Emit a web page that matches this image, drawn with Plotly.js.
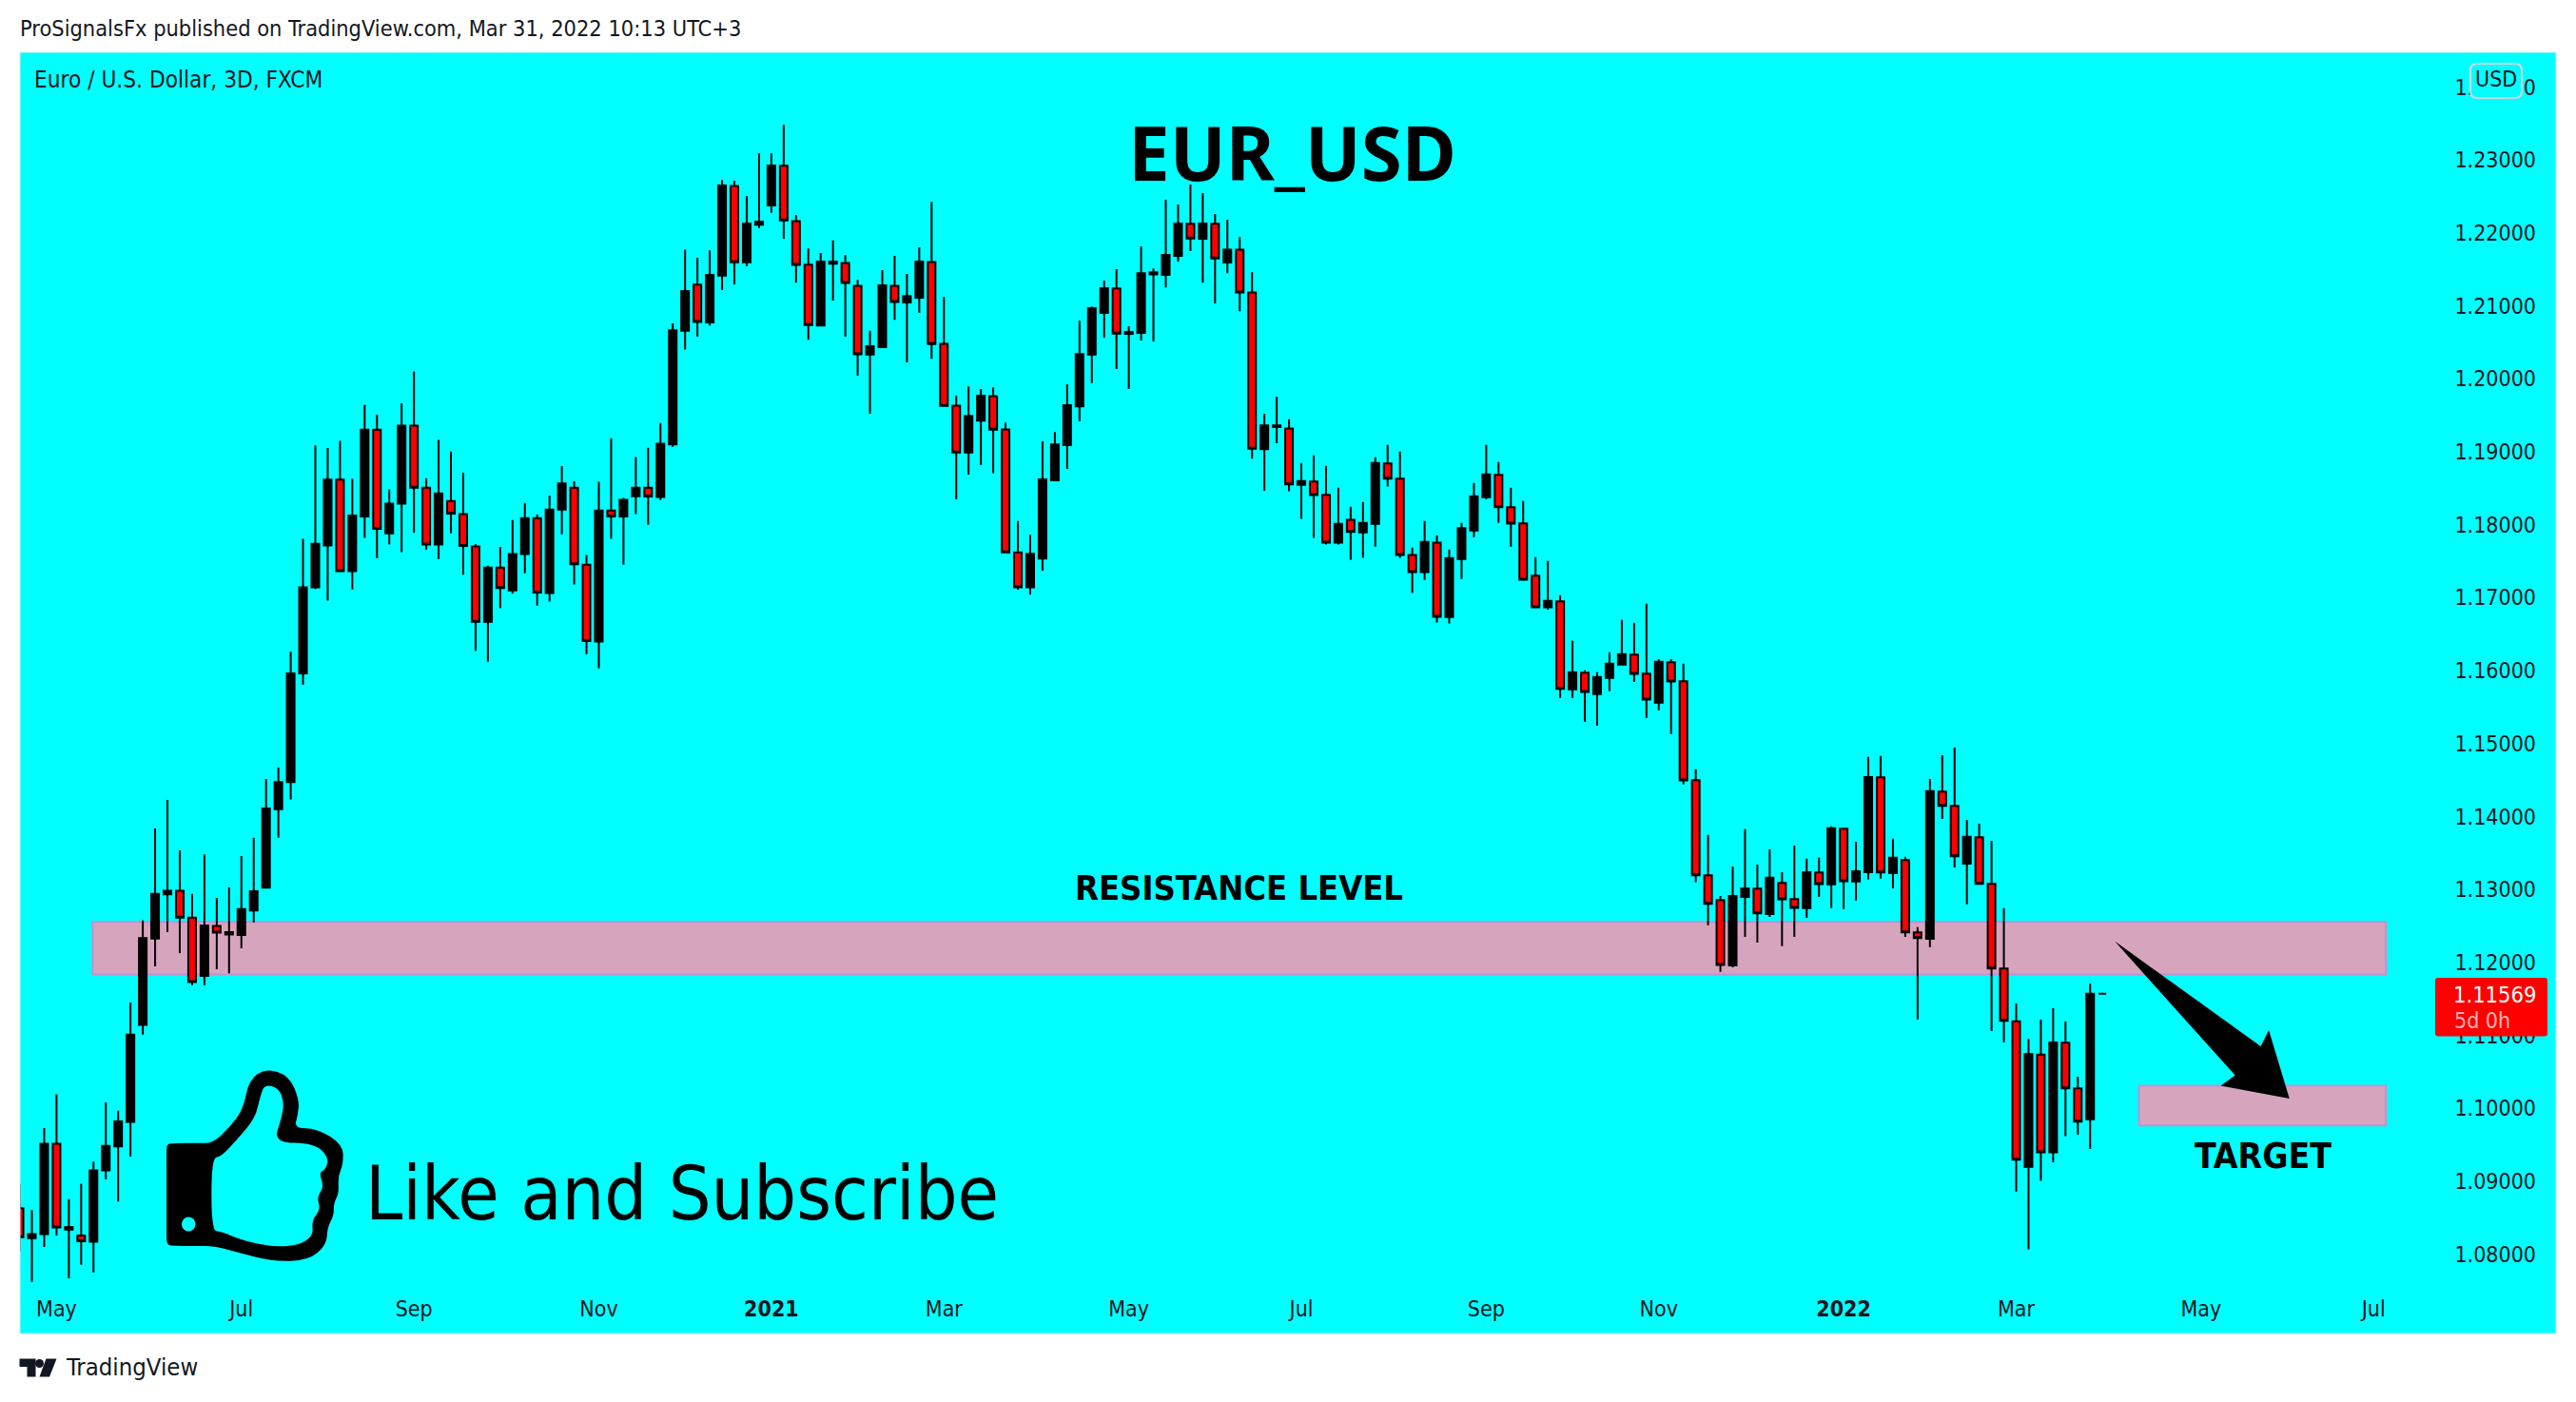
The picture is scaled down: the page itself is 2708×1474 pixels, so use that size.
<!DOCTYPE html>
<html><head><meta charset="utf-8">
<script src="https://cdn.plot.ly/plotly-3.0.1.min.js"></script>
<style>html,body{margin:0;padding:0;background:#fff}#c{width:2708px;height:1474px}</style>
</head><body><div id="c"></div>
<script>
const open=[1.08629,1.0822,1.08275,1.09514,1.08336,1.08256,1.08171,1.09148,1.09477,1.09813,
1.11144,1.12328,1.12933,1.12982,1.12615,1.11816,1.12499,1.12383,1.12377,1.12713,
1.13024,1.14099,1.14471,1.15962,1.17143,1.17716,1.1862,1.17365,1.18115,1.19303,
1.17882,1.18288,1.19358,1.18509,1.17728,1.18325,1.18146,1.17703,1.1667,1.17414,
1.171,1.17599,1.18091,1.17063,1.18208,1.18509,1.17451,1.16399,1.18196,1.18115,
1.18392,1.18509,1.1838,1.19102,1.20658,1.21291,1.20774,1.21417,1.22646,1.21598,
1.22115,1.22376,1.22921,1.22162,1.21566,1.20732,1.2158,1.21589,1.21277,1.20332,
1.20434,1.21277,1.21049,1.21114,1.21603,1.20481,1.19633,1.18991,1.19428,1.19763,
1.19307,1.17621,1.17142,1.17537,1.18609,1.19093,1.19624,1.20332,1.20905,1.2124,
1.20616,1.2063,1.21431,1.21426,1.21687,1.22125,1.2192,1.22125,1.21594,1.21771,
1.21184,1.19037,1.1934,1.1932,1.18546,1.18594,1.18411,1.17755,1.18068,1.17894,
1.18011,1.18841,1.18633,1.17585,1.1735,1.17755,1.16733,1.17529,1.1792,1.18376,
1.18685,1.18242,1.1802,1.17303,1.16868,1.16951,1.15742,1.15972,1.15677,1.15899,
1.16081,1.1622,1.15959,1.1556,1.16116,1.15855,1.14499,1.13195,1.12856,1.1196,
1.12899,1.13012,1.12664,1.1309,1.12869,1.12743,1.13234,1.13069,1.13834,1.13108,
1.13238,1.14538,1.13225,1.13403,1.12412,1.12325,1.14342,1.14147,1.13355,1.13716,
1.13077,1.11917,1.11193,1.09198,1.10737,1.09396,1.10898,1.10272,1.09848,1.11569];
const high=[1.08965,1.08604,1.09728,1.10192,1.08757,1.08965,1.0927,1.10082,1.09966,1.11449,
1.12579,1.13836,1.14227,1.13537,1.12939,1.13482,1.12884,1.13031,1.13458,1.13708,
1.14514,1.14673,1.16257,1.17808,1.19088,1.19051,1.19149,1.18632,1.19641,1.19512,
1.18485,1.19666,1.20103,1.18639,1.19162,1.19002,1.18712,1.17734,1.17439,1.17697,
1.18066,1.183,1.1814,1.18399,1.18805,1.18595,1.17586,1.18589,1.19186,1.18368,
1.18928,1.19057,1.19395,1.2076,1.21771,1.21659,1.21761,1.22725,1.22716,1.22507,
1.23093,1.23093,1.23484,1.22246,1.21789,1.21724,1.21897,1.21701,1.21356,1.20658,
1.21491,1.21687,1.2144,1.21803,1.22427,1.21123,1.19768,1.19898,1.19861,1.19885,
1.194,1.1805,1.17864,1.19144,1.1927,1.19922,1.20797,1.20993,1.21347,1.21505,
1.20723,1.21817,1.21515,1.22455,1.2239,1.22665,1.22548,1.2226,1.22181,1.21943,
1.21463,1.19521,1.19754,1.19446,1.18846,1.1895,1.18807,1.18507,1.18246,1.18311,
1.18924,1.19094,1.19002,1.17685,1.1805,1.17855,1.17659,1.18024,1.18572,1.19094,
1.18859,1.18507,1.18324,1.17555,1.17503,1.17033,1.16407,1.16003,1.15977,1.16251,
1.16694,1.16655,1.16916,1.16159,1.16159,1.16094,1.14647,1.13747,1.12912,1.13316,
1.13825,1.13342,1.13551,1.13238,1.13603,1.13421,1.13434,1.13864,1.13838,1.13655,
1.14816,1.14829,1.13695,1.13447,1.12482,1.14516,1.14842,1.14946,1.13955,1.13903,
1.13668,1.12743,1.11438,1.10954,1.11216,1.11373,1.11189,1.10433,1.11709,1.11569];
const low=[1.08037,1.07621,1.08098,1.08256,1.0767,1.07853,1.0775,1.09026,1.0872,1.09337,
1.1101,1.11944,1.12414,1.12127,1.11687,1.11687,1.11907,1.11852,1.12194,1.12548,
1.13024,1.13708,1.14233,1.15808,1.17119,1.16959,1.17365,1.17113,1.1782,1.17543,
1.17728,1.17623,1.17888,1.1766,1.17531,1.17882,1.17316,1.1627,1.16122,1.16854,
1.17057,1.17334,1.16891,1.16946,1.17869,1.1718,1.16227,1.1603,1.17808,1.17451,
1.18146,1.17998,1.18337,1.1907,1.20402,1.20579,1.20732,1.21216,1.21296,1.21547,
1.22069,1.22278,1.2192,1.21319,1.20537,1.20732,1.21072,1.20579,1.20043,1.19521,
1.20434,1.20811,1.20225,1.20905,1.20276,1.19615,1.18348,1.18688,1.18818,1.18706,
1.17621,1.17109,1.17044,1.1737,1.18609,1.18767,1.19419,1.19941,1.20565,1.20136,
1.19861,1.20527,1.20513,1.21254,1.21608,1.21752,1.21319,1.21035,1.21449,1.20928,
1.18907,1.18464,1.19116,1.18459,1.18081,1.1782,1.17729,1.17729,1.1752,1.17546,
1.17698,1.18524,1.17546,1.17064,1.17242,1.16659,1.16646,1.17255,1.17829,1.1835,
1.18024,1.17698,1.17246,1.16855,1.16837,1.15625,1.15625,1.15299,1.15246,1.15716,
1.16081,1.15846,1.15351,1.15455,1.15129,1.14438,1.13099,1.12508,1.11869,1.11934,
1.12351,1.12273,1.12625,1.12221,1.12351,1.12612,1.12899,1.12743,1.1273,1.12847,
1.13134,1.13147,1.13016,1.12351,1.11217,1.12208,1.13968,1.13303,1.12795,1.13077,
1.1106,1.10904,1.08857,1.08065,1.09005,1.09258,1.09617,1.09636,1.09442,1.11569];
const close=[1.08232,1.08275,1.09514,1.08366,1.08372,1.08177,1.09148,1.09484,1.09819,1.1101,
1.12335,1.12939,1.12982,1.12615,1.1173,1.12505,1.12408,1.12414,1.12731,1.12976,
1.14111,1.14471,1.15962,1.17143,1.1774,1.1862,1.17365,1.18128,1.19303,1.17943,
1.18288,1.19358,1.18509,1.17728,1.18429,1.18152,1.17709,1.1667,1.17414,1.17131,
1.17599,1.18091,1.1707,1.18208,1.18565,1.17457,1.16405,1.18196,1.18115,1.18343,
1.18509,1.18386,1.19112,1.20667,1.21203,1.20779,1.21426,1.22651,1.21598,1.22129,
1.22157,1.22926,1.22171,1.21561,1.20737,1.21608,1.21608,1.21314,1.20336,1.20448,
1.21282,1.21054,1.21137,1.21608,1.20476,1.19629,1.18991,1.19493,1.19768,1.19302,
1.17621,1.17142,1.17603,1.18623,1.19102,1.19638,1.20341,1.2097,1.21244,1.2062,
1.20644,1.21449,1.21463,1.21701,1.22129,1.21924,1.22129,1.2165,1.21771,1.21184,
1.19042,1.19363,1.19363,1.18555,1.18598,1.18407,1.17755,1.18011,1.17903,1.18024,
1.18846,1.18633,1.17585,1.1735,1.17763,1.16738,1.17542,1.17955,1.18389,1.18689,
1.18242,1.18015,1.17246,1.16868,1.16955,1.15751,1.15977,1.15707,1.15912,1.16094,
1.16225,1.15955,1.15603,1.1612,1.15851,1.14494,1.13195,1.12803,1.11964,1.12912,
1.13016,1.12673,1.1316,1.12864,1.12747,1.13238,1.13073,1.13838,1.13112,1.13251,
1.14542,1.13234,1.13434,1.12412,1.12334,1.14347,1.14147,1.13455,1.13721,1.13077,
1.11917,1.11199,1.09295,1.10746,1.09396,1.10903,1.10272,1.09816,1.11569,1.11569];

const tickBars=[3,18,32,47,61,75,90,104,119,133,148,162,177,191];
const tickLabels=['May','Jul','Sep','Nov','<b>2021</b>','Mar','May','Jul','Sep','Nov','<b>2022</b>','Mar','May','Jul'];
const resistanceZone=[1.11835,1.12555];
const targetZone=[1.09765,1.1031];

const W=2708,H=1474,L=20.5,R=2687,T=55,B=1402;
const FONT='"DejaVu Sans Condensed","DejaVu Sans",sans-serif';
const INK='#131722';
const fx=x=>(x-L)/(R-L), fy=y=>(B-y)/(B-T);
const pt=(x,y)=>fx(x)+','+fy(y);
const poly=p=>'M'+p.map(q=>pt(q[0],q[1])).join(' L')+' Z';
function smooth(p){
  const m=(a,b)=>[(a[0]+b[0])/2,(a[1]+b[1])/2];
  let s='M'+pt(...m(p[p.length-1],p[0]));
  p.forEach((q,i)=>{const e=m(q,p[(i+1)%p.length]);s+=' Q'+pt(q[0],q[1])+' '+pt(e[0],e[1]);});
  return s+' Z';
}
function rounded(x0,y0,x1,y1,r){
  return 'M'+pt(x0+r,y0)+' L'+pt(x1-r,y0)+' Q'+pt(x1,y0)+' '+pt(x1,y0+r)+' L'+pt(x1,y1-r)+' Q'+pt(x1,y1)+' '+pt(x1-r,y1)+' L'+pt(x0+r,y1)+' Q'+pt(x0,y1)+' '+pt(x0,y1-r)+' L'+pt(x0,y0+r)+' Q'+pt(x0,y0)+' '+pt(x0+r,y0)+' Z';
}
const tz=(u,v)=>[u/2.24,740+v/2.136];
const thumbOuter=[[391,1030],[391,1005],[392,988],[412,987],[460,986],[500,987],[540,950],[572,910],[585,845],[625,818],[680,835],[704,890],[700,925],[692,953],[745,953],[807,990],[807,1035],[795,1060],[797,1100],[785,1120],[785,1150],[770,1175],[768,1215],[725,1250],[640,1252],[560,1232],[500,1217],[460,1218],[412,1217],[392,1216],[391,1195],[391,1150]].map(p=>tz(...p));
const thumbInner=[[497,1020],[520,1017],[560,975],[600,930],[612,880],[622,855],[655,862],[668,895],[662,930],[643,985],[740,987],[774,1020],[765,1047],[750,1052],[762,1085],[745,1108],[754,1135],[733,1160],[737,1195],[700,1217],[640,1219],[570,1205],[520,1185],[497,1183]].map(p=>tz(...p));
const arrow=[[2223,989.6],[2376.5,1100],[2385,1083],[2406.7,1155],[2334.5,1141.5],[2349.6,1130.6]];
const logoT=[[20,1428.5],[37,1428.5],[37,1447.5],[28,1447.5],[28,1437],[20,1437]];
const logoS=[[48,1428.5],[59,1428.5],[51.5,1447.5],[41,1447.5]];

const zone=(y,x0,x1)=>({type:'rect',layer:'below',xref:'x',yref:'y',x0,x1,y0:y[0],y1:y[1],fillcolor:'#d6a5bd',line:{color:'#c48fd2',width:2}});
const path=(d,fill)=>({type:'path',layer:'above',xref:'paper',yref:'paper',path:d,fillcolor:fill,line:{width:0}});
const shapes=[
 zone(resistanceZone,5.94,192),
 zone(targetZone,171.97,192),
 path(poly(arrow),'#000'),
 path(smooth(thumbOuter),'#000'),
 path(smooth(thumbInner),'#00ffff'),
 {type:'circle',layer:'above',xref:'paper',yref:'paper',x0:fx(190.5),x1:fx(205),y0:fy(1294.5),y1:fy(1279.5),fillcolor:'#00ffff',line:{width:0}},
 path(rounded(2560,1028,2678,1089.6,3),'#ff0000'),
 {type:'path',layer:'above',xref:'paper',yref:'paper',path:rounded(2597,67,2651,103,7),fillcolor:'#00ffff',line:{color:'#cfd8dc',width:2}},
 path(poly(logoT),INK),path(poly(logoS),INK),
 {type:'circle',layer:'above',xref:'paper',yref:'paper',x0:fx(36.5),x1:fx(45.5),y0:fy(1438),y1:fy(1429),fillcolor:INK,line:{width:0}},
 {type:'rect',layer:'above',xref:'paper',yref:'paper',x0:0,x1:1,y0:0,y1:1,line:{color:'#c9f3f3',width:1}}
];
const ann=(text,x,y,size,opt={})=>Object.assign({text,xref:'paper',yref:'paper',x:fx(x),y:fy(y),showarrow:false,xanchor:'left',yanchor:'middle',font:{family:FONT,size,color:INK},align:'left'},opt);
const annotations=[
 ann('ProSignalsFx published on TradingView.com, Mar 31, 2022 10:13 UTC+3',18.5,30,23.4),
 ann('Euro / U.S. Dollar, 3D, FXCM',34,84,24.2),
 ann('<b>EUR_USD</b>',1358,160,78,{xanchor:'center',font:{family:'"Noto Sans",sans-serif',size:78,color:'#000'}}),
 ann('<b>RESISTANCE LEVEL</b>',1302,934,36,{xanchor:'center',font:{family:FONT,size:36,color:'#000'}}),
 ann('<b>TARGET</b>',2379,1215,37,{xanchor:'center',font:{family:FONT,size:37,color:'#000'}}),
 ann('Like and Subscribe',382,1255,78.6,{font:{family:FONT,size:78.6,color:'#000'}}),
 ann('1.11569',2668,1046,23.5,{xanchor:'right',font:{family:FONT,size:23.5,color:'#fff'}}),
 ann('5d 0h',2578,1073,23,{font:{family:FONT,size:23,color:'#ffb3b3'}}),
 ann('USD',2624,83,23,{xanchor:'center'}),
 ann('TradingView',67,1437,25.5)
];
const trace={type:'candlestick',x:open.map((_,k)=>k),open,high,low,close,
 increasing:{line:{color:'#000',width:2},fillcolor:'#000'},
 decreasing:{line:{color:'#000',width:2},fillcolor:'#ff0000'},
 whiskerwidth:0,hoverinfo:'skip'};
const layout={width:W,height:H,paper_bgcolor:'#fff',plot_bgcolor:'#00ffff',showlegend:false,dragmode:false,
 margin:{l:L,r:W-R,t:T,b:H-B,pad:0,autoexpand:false},boxgap:0.38,boxgroupgap:0,
 xaxis:{type:'linear',range:[0.035,205.8],rangeslider:{visible:false},showgrid:false,zeroline:false,showline:false,ticks:'',
  tickmode:'array',tickvals:tickBars,ticktext:tickLabels,ticklabelposition:'inside',ticklabelstandoff:10,tickfont:{family:FONT,size:23,color:INK},fixedrange:true},
 yaxis:{side:'right',range:[1.06912,1.24477],showgrid:false,zeroline:false,showline:false,ticks:'',dtick:0.01,tick0:1.08,tickformat:'.5f',
  ticklabelposition:'inside',ticklabelstandoff:18,tickfont:{family:FONT,size:23,color:INK},fixedrange:true},
 shapes,annotations};
Plotly.newPlot('c',[trace],layout,{staticPlot:true,displayModeBar:false});
</script></body></html>
